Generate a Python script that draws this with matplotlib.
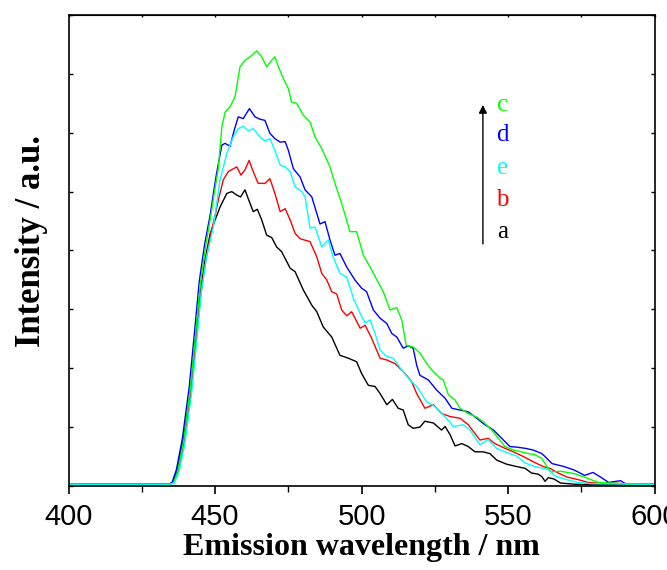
import matplotlib
matplotlib.use('Agg')
import matplotlib.pyplot as plt

# data: wavelength (nm) / intensity (a.u.)
wl_a = [400, 434, 435.5, 437, 439, 441.4, 443.1, 444.8, 446.6, 448.3, 450, 451.7, 454, 455.7, 457.4,
        458.7, 460.2, 461.3, 463, 464.4, 465.9, 467.6, 469.3, 471, 472.7, 475.6, 477.3, 480.1, 483,
        484.7, 486.9, 489.8, 492.6, 495.5, 498.3, 500, 502.3, 504.6, 506.3, 508.6, 510.5, 512.5,
        514.2, 515.9, 517.6, 519.9, 521.6, 524.5, 527.3, 528.5, 530.2, 531.9, 534.2, 536.4, 538.7,
        541.5, 543.8, 546.1, 549.5, 552.9, 555.8, 558, 560.3, 561.5, 562.6, 563.7, 565.6, 567.9,
        572.6, 580, 600]
int_a = [3, 3, 5, 25, 75, 158, 240, 325, 385, 428, 452, 474, 497, 500, 494,
         491, 503, 488, 466, 470, 452, 426, 422, 406, 398, 370, 364, 333, 307,
         296, 270, 253, 222, 217, 211, 191, 171, 169, 157, 138, 147, 132,
         129, 104, 98, 100, 110, 107, 95, 101, 87, 68, 72, 67, 58,
         58, 55, 44, 37, 33, 30, 22, 20, 16, 8, 14, 12, 5,
         3, 2, 2]

wl_b = [400, 434, 435.8, 437.3, 439.3, 441.7, 443.4, 445.1, 446.9, 448.6, 450, 451.1, 452.8, 454.5,
        457.4, 458.8, 460.2, 461.6, 463, 464.7, 467, 468.7, 470.4, 472.2, 473.9, 475.6, 477.3, 479,
        482.4, 484.7, 486.4, 488.1, 489.8, 491.5, 493.2, 494.9, 496.6, 499.5, 501.2, 503.4, 506.3,
        508.6, 511.4, 514.8, 517, 518.8, 521.6, 524.5, 527.3, 530.2, 533.6, 536.4, 540.4, 543.2,
        545.5, 548.9, 551.8, 555.2, 558.6, 562, 564.3, 566.7, 570.2, 573.8, 577.3, 580, 585, 589,
        595, 600]
int_b = [3, 3, 5, 25, 72, 155, 240, 325, 385, 430, 460, 486, 520, 534,
         542, 528, 537, 553, 534, 514, 514, 522, 497, 466, 471, 452, 429, 420,
         415, 389, 361, 350, 330, 326, 299, 289, 296, 268, 273, 251, 217,
         214, 208, 191, 178, 157, 132, 138, 123, 118, 115, 104, 78, 81,
         72, 64, 58, 50, 41, 33, 30, 23, 15, 11, 6, 5, 5, 4,
         3, 3]

wl_e = [400, 434.5, 436, 437.6, 439.6, 441.9, 443.6, 445.3, 447.1, 449.4, 451.7, 454, 456.2, 457.9,
        459.6, 461.3, 463, 465.3, 467, 468.7, 470.4, 472.2, 473.9, 475.6, 477.3, 479.6, 480.7, 482.4,
        484.1, 486.4, 488.6, 490.3, 492.6, 494.9, 497.2, 499.5, 501.2, 502.9, 504.6, 506.3, 508.6,
        510.8, 513.7, 516.5, 518.8, 522.2, 525, 527.9, 531.3, 534.7, 537, 540.4, 543.2, 546.1,
        549.5, 552.9, 555.8, 559.2, 562, 564.3, 565.6, 569.1, 573.8, 578, 600]
int_e = [3, 3, 5, 22, 70, 155, 240, 330, 390, 440, 520, 565, 593, 607,
         611, 603, 607, 593, 586, 590, 570, 545, 542, 534, 508, 500, 491, 438,
         440, 406, 418, 389, 361, 355, 319, 293, 277, 282, 259, 231, 220,
         217, 197, 180, 169, 143, 135, 121, 101, 104, 95, 70, 79, 64,
         57, 51, 39, 33, 30, 27, 18, 12, 6, 4, 3]

wl_d = [400, 434, 435.3, 436.8, 438.8, 441.2, 442.9, 444.6, 446.4, 448.3, 449.5, 450.5, 452.3, 453.4,
        455.1, 456.5, 457.9, 459.6, 461.7, 463.6, 465.3, 467, 468.7, 470.4, 472.2, 473.9, 475, 476.7,
        479, 480.7, 483, 484.7, 485.8, 487.5, 489.2, 490.9, 492.6, 494.9, 497.7, 500, 501.7, 504,
        506.3, 508.6, 510.3, 512, 514.2, 515.9, 517.6, 518.8, 519.9, 522.8, 525.6, 528.5, 530.8,
        533.6, 536.4, 539.3, 542.1, 545, 547.8, 550.6, 552.9, 555.8, 558.6, 561.5, 562.6, 565,
        569.1, 572.6, 576.1, 579, 581.9, 584.3, 588.4, 590, 600]
int_d = [3, 3, 6, 28, 80, 170, 258, 348, 410, 460, 500, 531, 579, 582,
         577, 604, 627, 624, 641, 627, 623, 621, 599, 590, 584, 585, 570, 539,
         525, 503, 491, 463, 445, 449, 418, 392, 395, 372, 350, 336, 330, 299,
         285, 276, 259, 253, 234, 238, 234, 205, 188, 180, 163, 149, 132,
         129, 126, 115, 104, 95, 81, 67, 66, 64, 61, 55, 50, 38,
         33, 27, 18, 23, 14, 6, 9, 4, 3]

wl_c = [400, 434.3, 435.8, 437.3, 439.3, 441.6, 443.3, 445, 446.8, 448.5, 449.8, 451.1, 452.3, 453.4,
        455.1, 456.8, 458.5, 460.2, 461.9, 464.2, 465.9, 467.6, 469.3, 470.4, 471.6, 473.3, 475,
        476.1, 477.8, 480.1, 482.4, 484.1, 486.4, 489.2, 490.9, 493.2, 496, 498.3, 500.6, 502.9,
        505.2, 507.4, 509.7, 512, 513.7, 515.2, 517.6, 519.9, 522.2, 524.5, 526.8, 527.9, 529.6,
        531.9, 533.6, 536.4, 539.3, 541.5, 544.4, 546.7, 548.9, 551.8, 554.6, 556.9, 559.2, 561.5,
        562.6, 564.4, 567.9, 572.6, 576.1, 580.8, 585, 592, 600]
int_c = [3, 3, 5, 26, 78, 168, 255, 345, 408, 458, 500, 540, 610, 635,
         644, 661, 712, 723, 729, 739, 729, 712, 723, 729, 712, 692, 675,
         652, 650, 630, 618, 593, 573, 542, 514, 480, 432, 432, 392, 372,
         350, 330, 299, 303, 282, 239, 236, 226, 208, 194, 183, 180, 155,
         146, 132, 123, 117, 109, 95, 81, 67, 61, 58, 55, 53, 47,
         38, 24, 25, 21, 15, 6, 5, 3, 3]

labels = ['c', 'd', 'e', 'b', 'a']
colors = {'a': 'black', 'b': '#ff0000', 'c': '#00ff00', 'd': '#0000ff', 'e': '#00ffff'}

fig = plt.figure(figsize=(6.67, 5.70), dpi=100)
ax = fig.add_axes([0.1029, 0.1474, 0.8785, 0.8263])

ax.plot(wl_a, int_a, color=colors['a'], lw=1.0)
ax.plot(wl_b, int_b, color=colors['b'], lw=1.0)
ax.plot(wl_d, int_d, color=colors['d'], lw=1.0)
ax.plot(wl_c, int_c, color=colors['c'], lw=1.0)
ax.plot(wl_e, int_e, color=colors['e'], lw=1.0)

ax.set_xlim(400, 600)
ax.set_ylim(0, 800)
ax.set_xticks([400, 450, 500, 550, 600])
ax.set_xticks([425, 475, 525, 575], minor=True)
ax.set_yticks(range(0, 801, 100))
ax.set_yticklabels([])
ax.tick_params(axis='x', which='major', direction='out', length=6, width=1.2, labelsize=21, pad=6)
ax.tick_params(axis='x', which='minor', direction='out', length=4, width=1.0)
ax.tick_params(axis='y', direction='in', length=3, width=1.0, right=True)
for lab in ax.get_xticklabels():
    lab.set_fontfamily('Liberation Sans')
for sp in ax.spines.values():
    sp.set_linewidth(1.2)

# tiny inward ticks on the top edge
top = ax.secondary_xaxis('top')
top.set_xticks([400, 425, 450, 475, 500, 525, 550, 575, 600])
top.set_xticklabels([])
top.tick_params(direction='in', length=1.5, width=1.0)

ax.set_xlabel('Emission wavelength / nm', fontsize=23, fontweight='bold',
              family='Liberation Serif', labelpad=2)
ax.set_ylabel('Intensity / a.u.', fontsize=25, fontweight='bold',
              family='Liberation Serif')
ax.yaxis.set_label_coords(-0.035, 0.52)

# legend letters + arrow
ys = [0.809, 0.745, 0.675, 0.607, 0.539]
for lab, y in zip(labels, ys):
    ax.text(0.740, y, lab, color=colors[lab], fontsize=18, family='Liberation Serif',
            ha='center', va='center', transform=ax.transAxes)
ax.annotate('', xy=(0.707, 0.815), xytext=(0.707, 0.508), xycoords='axes fraction',
            arrowprops=dict(arrowstyle='-|>', color='black', lw=1.0, mutation_scale=12))

fig.savefig('out.png', dpi=100)
